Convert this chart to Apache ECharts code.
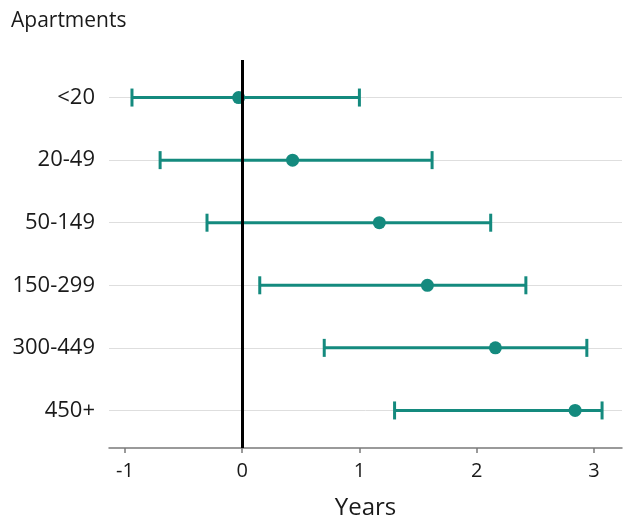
<!DOCTYPE html>
<html>
<head>
<meta charset="utf-8">
<script src="https://cdn.jsdelivr.net/npm/echarts@6/dist/echarts.min.js"></script>
<style>
  html, body { margin: 0; padding: 0; background: #fff; }
  #chart { width: 624px; height: 521px; }
</style>
</head>
<body>
<div id="chart"></div>
<script>
// Apartment size groups, top to bottom
const categories = ['<20', '20-49', '50-149', '150-299', '300-449', '450+'];
// Point estimate and interval bounds, in years
const estimate = [-0.03, 0.43, 1.17, 1.58, 2.16, 2.84];
const lower = [-0.94, -0.70, -0.30, 0.15, 0.70, 1.30];
const upper = [1.00, 1.62, 2.12, 2.42, 2.94, 3.07];
const xTicks = [-1, 0, 1, 2, 3];

const TEAL = '#148a7e';
const FONT = 'Open Sans';

// y position of each group (1 = top row)
const rows = categories.map((c, i) => i + 1);

const chart = echarts.init(document.getElementById('chart'));

chart.setOption({
  backgroundColor: '#fff',
  animation: false,
  title: {
    text: 'Apartments',
    left: 6,
    top: 6,
    textStyle: { fontFamily: FONT, fontSize: 21, fontWeight: 'normal', color: '#1a1a1a' }
  },
  grid: { left: 109, right: 2, top: 60, bottom: 73, outerBoundsMode: 'none', containLabel: false },
  xAxis: {
    type: 'value',
    min: -1.136,
    max: 3.24,
    name: 'Years',
    nameLocation: 'middle',
    nameGap: 48,
    nameTextStyle: { fontFamily: FONT, fontSize: 24, color: '#1a1a1a' },
    axisLine: { show: true, lineStyle: { color: '#7a7a7a', width: 1.5 } },
    axisTick: { show: true, length: 5, customValues: xTicks, lineStyle: { color: '#7a7a7a', width: 1.5 } },
    axisLabel: { customValues: xTicks, margin: 13, fontFamily: FONT, fontSize: 20, color: '#1a1a1a' },
    splitLine: { show: false }
  },
  yAxis: {
    type: 'value',
    inverse: true,
    min: 0.4,
    max: 6.6,
    axisLine: { show: false },
    axisTick: { show: false },
    axisLabel: {
      customValues: rows,
      margin: 14,
      fontFamily: FONT,
      fontSize: 22,
      color: '#1a1a1a',
      formatter: v => categories[Math.round(v) - 1] || ''
    },
    splitLine: { show: false }
  },
  series: [
    {
      // horizontal guide lines at each group
      type: 'line',
      data: [],
      z: 1,
      silent: true,
      markLine: {
        z: 1,
        silent: true,
        symbol: 'none',
        label: { show: false },
        lineStyle: { color: '#dedede', width: 1, type: 'solid' },
        data: rows.map(r => ({ yAxis: r }))
      }
    },
    {
      // interval bars with end caps
      type: 'custom',
      z: 3,
      silent: true,
      data: rows.map((r, i) => [r, lower[i], upper[i]]),
      encode: { x: [1, 2], y: 0 },
      renderItem: function (params, api) {
        const y = api.value(0);
        const a = api.coord([api.value(1), y]);
        const b = api.coord([api.value(2), y]);
        const half = 9;
        const style = { stroke: TEAL, lineWidth: 3, fill: null };
        return {
          type: 'group',
          children: [
            { type: 'line', shape: { x1: a[0], y1: a[1], x2: b[0], y2: b[1] }, style: style },
            { type: 'line', shape: { x1: a[0], y1: a[1] - half, x2: a[0], y2: a[1] + half }, style: style },
            { type: 'line', shape: { x1: b[0], y1: b[1] - half, x2: b[0], y2: b[1] + half }, style: style }
          ]
        };
      }
    },
    {
      type: 'scatter',
      z: 4,
      silent: true,
      symbol: 'circle',
      symbolSize: 13,
      itemStyle: { color: TEAL, opacity: 1 },
      data: rows.map((r, i) => [estimate[i], r])
    },
    {
      // reference line at zero
      type: 'line',
      data: [],
      z: 10,
      silent: true,
      markLine: {
        z: 10,
        silent: true,
        symbol: 'none',
        label: { show: false },
        lineStyle: { color: '#000', width: 3, type: 'solid' },
        data: [{ xAxis: 0 }]
      }
    }
  ]
});
</script>
</body>
</html>
